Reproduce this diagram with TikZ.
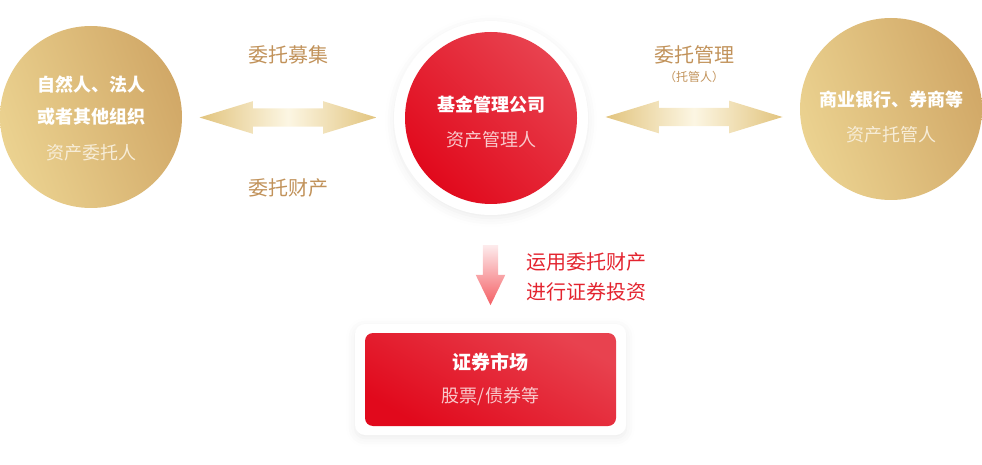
\documentclass[tikz,border=0pt]{standalone}
\usepackage{fontspec}
\setmainfont{Noto Sans CJK SC}
\usetikzlibrary{shapes.arrows}
\usetikzlibrary{calc}
\usetikzlibrary{shadows.blur}
\definecolor{goldlight}{HTML}{EBD290}
\definecolor{golddark}{HTML}{D1A867}
\definecolor{goldarrow}{HTML}{E2C47E}
\definecolor{goldpale}{HTML}{FCF6E3}
\definecolor{goldtext}{HTML}{C1925A}
\definecolor{creamtext}{HTML}{F7EDD8}
\definecolor{redlight}{HTML}{E8424F}
\definecolor{reddark}{HTML}{E1091C}
\definecolor{redtext}{HTML}{E3242F}
\definecolor{pinktext}{HTML}{F9C9CC}
\definecolor{pinkpale}{HTML}{FDEBEC}
\definecolor{pinkdeep}{HTML}{F45F64}

\tikzset{
  goldball/.style = {circle, inner sep=0pt, minimum size=182pt,
    left color=goldlight, right color=golddark, shading angle=110},
  redball/.style = {circle, inner sep=0pt, minimum size=172pt,
    top color=redlight, bottom color=reddark, shading angle=-45},
  halo/.style = {circle, fill=white, inner sep=0pt, minimum size=194pt,
    blur shadow={shadow xshift=0pt, shadow yshift=-3pt,
      shadow blur radius=9pt, shadow opacity=8}},
  goldarrow/.style = {double arrow, inner sep=9pt, minimum height=177pt,
    minimum width=29pt, double arrow tip angle=34,
    left color=goldarrow, right color=goldarrow, middle color=goldpale},
  title/.style = {inner sep=0pt, text=white, font=\fontsize{18}{18}\selectfont\bfseries},
  subtitle/.style = {inner sep=0pt, font=\fontsize{18}{18}\selectfont},
  label/.style = {inner sep=0pt, text=goldtext, font=\fontsize{20}{20}\selectfont},
}

\begin{document}
\begin{tikzpicture}[x=1pt, y=-1pt]
  \useasboundingbox (0,0) rectangle (982,465);

  % the three parties
  \node[goldball] (client) at (91,117) {};
  \node[halo] (fundhalo) at (491,118) {};
  \node[redball] (fund) at (491,118) {};
  \node[goldball] (custodian) at (891,109) {};

  \node[title] (clientA) at (91,85) {自然人、法人};
  \node[title] (clientB) at (91,117) {或者其他组织};
  \node[subtitle, text=creamtext] (clientC) at (91,153) {资产委托人};

  \node[title] (fundA) at (491,105) {基金管理公司};
  \node[subtitle, text=pinktext] (fundB) at (491,140) {资产管理人};

  \node[title] (custodianA) at (891,100) {商业银行、券商等};
  \node[subtitle, text=creamtext] (custodianB) at (891,135) {资产托管人};

  % double arrows between them
  \node[goldarrow] (raise) at ($(client.east)!0.5!(fundhalo.west)$) {};
  \node[goldarrow] (keep) at ($(fundhalo.east)!0.5!(custodian.west)+(0,3.5)$) {};

  \node[label] (raiseA) at (288,55) {委托募集};
  \node[label] (raiseB) at (288,188) {委托财产};
  \node[label] (keepA) at (694,55) {委托管理};
  \node[inner sep=0pt, text=goldtext, font=\fontsize{12}{12}\selectfont] (keepB) at (694,77) {（托管人）};

  % down to the market
  \node[single arrow, shape border rotate=270, anchor=tail, inner sep=7.5pt,
    minimum height=60pt, minimum width=27pt, single arrow tip angle=52,
    top color=pinkpale, bottom color=pinkdeep] (invest) at (490.5,245) {};
  \node[label, text=redtext] (investA) at (586,262) {运用委托财产};
  \node[label, text=redtext] (investB) at (586,292) {进行证券投资};

  \node[rectangle, rounded corners=10pt, fill=white, minimum width=271pt, minimum height=111pt,
    blur shadow={shadow xshift=0pt, shadow yshift=-3pt, shadow blur radius=9pt, shadow opacity=8}]
    (markethalo) at (490.5,379.5) {};
  \node[rectangle, rounded corners=8pt, minimum width=251pt, minimum height=93pt,
    top color=redlight, bottom color=reddark, shading angle=-30] (market) at (490.5,379.5) {};
  \node[title, font=\fontsize{19}{19}\selectfont\bfseries] (marketA) at (490.5,362) {证券市场};
  \node[subtitle, text=pinktext] (marketB) at (490.5,397) {股票/债券等};
\end{tikzpicture}
\end{document}
